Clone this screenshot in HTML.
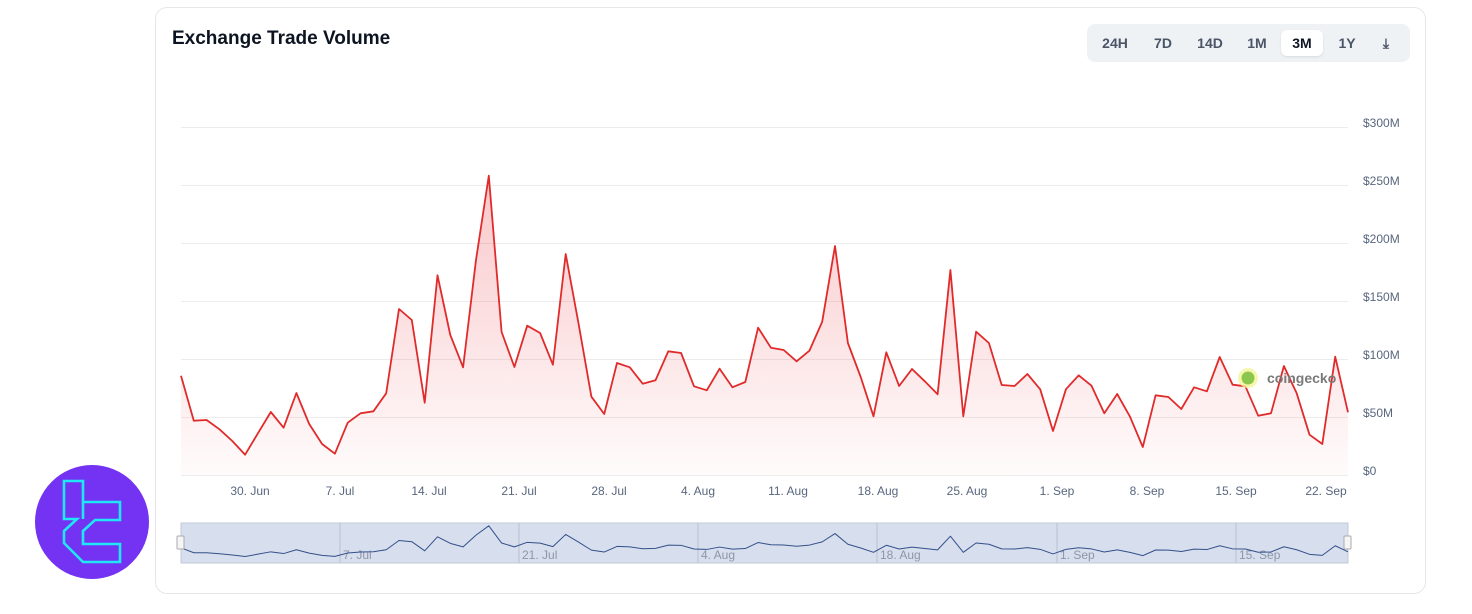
<!DOCTYPE html>
<html><head><meta charset="utf-8"><style>
html,body{margin:0;padding:0;background:#fff;width:1472px;height:614px;overflow:hidden;font-family:"Liberation Sans",sans-serif;}
.card{position:absolute;left:155px;top:7px;width:1271px;height:587px;border:1.5px solid #e5e7eb;border-radius:12px;box-sizing:border-box;}
.title{position:absolute;left:172px;top:28px;font-size:19px;font-weight:bold;color:#0d1421;}
.btns{position:absolute;left:1087px;top:24px;width:323px;height:38px;background:#eff2f5;border-radius:8px;}
.btn{position:absolute;top:6px;height:26px;line-height:26px;font-size:14px;font-weight:bold;color:#4a5568;text-align:center;}
.act{background:#fff;border-radius:6px;color:#0d1421;box-shadow:0 1px 2px rgba(0,0,0,.1);}
svg{position:absolute;left:0;top:0;}
</style></head><body>
<div class="card"></div>
<div class="title">Exchange Trade Volume</div>
<div class="btns">
<div class="btn" style="left:8px;width:40px">24H</div>
<div class="btn" style="left:56px;width:40px">7D</div>
<div class="btn" style="left:102px;width:42px">14D</div>
<div class="btn" style="left:150px;width:40px">1M</div>
<div class="btn act" style="left:194px;width:42px">3M</div>
<div class="btn" style="left:240px;width:40px">1Y</div>
<div class="btn" style="left:284px;width:30px">⤓</div>
</div>
<svg width="1472" height="614" viewBox="0 0 1472 614">
<defs>
<linearGradient id="g" x1="0" y1="0" x2="0" y2="1">
<stop offset="0" stop-color="#ea3943" stop-opacity="0.28"/>
<stop offset="1" stop-color="#ea3943" stop-opacity="0.02"/>
</linearGradient>
</defs>
<g stroke="#ececec" stroke-width="1">
<line x1="181" y1="127.5" x2="1348" y2="127.5"/>
<line x1="181" y1="185.5" x2="1348" y2="185.5"/>
<line x1="181" y1="243.5" x2="1348" y2="243.5"/>
<line x1="181" y1="301.5" x2="1348" y2="301.5"/>
<line x1="181" y1="359.5" x2="1348" y2="359.5"/>
<line x1="181" y1="417.5" x2="1348" y2="417.5"/>
<line x1="181" y1="475.5" x2="1348" y2="475.5"/>
</g>
<g fill="#58667e" font-size="12" font-family="Liberation Sans,sans-serif">
<text x="1363" y="127">$300M</text><text x="1363" y="185">$250M</text><text x="1363" y="243">$200M</text>
<text x="1363" y="301">$150M</text><text x="1363" y="359">$100M</text><text x="1363" y="417">$50M</text><text x="1363" y="475">$0</text>
</g>
<g fill="#58667e" font-size="12" font-family="Liberation Sans,sans-serif" text-anchor="middle">
<text x="250" y="495">30. Jun</text><text x="340" y="495">7. Jul</text><text x="429" y="495">14. Jul</text>
<text x="519" y="495">21. Jul</text><text x="609" y="495">28. Jul</text><text x="698" y="495">4. Aug</text>
<text x="788" y="495">11. Aug</text><text x="878" y="495">18. Aug</text><text x="967" y="495">25. Aug</text>
<text x="1057" y="495">1. Sep</text><text x="1147" y="495">8. Sep</text><text x="1236" y="495">15. Sep</text>
<text x="1326" y="495">22. Sep</text>
</g>
<polygon fill="url(#g)" points="181,475 181,375.7 193.8,420.7 206.6,420 219.5,429.3 232.3,441 245.1,454.7 257.9,433.3 270.8,412 283.6,427.7 296.4,393 309.2,424 322.1,444 334.9,453.7 347.7,422.7 360.5,413.3 373.4,411.3 386.2,393.3 399,309 411.8,320 424.7,402.7 437.5,275.3 450.3,335 463.1,367.3 476,260 488.8,175.7 501.6,332 514.4,367 527.2,325.7 540.1,333 552.9,364.7 565.7,254 578.5,323.3 591.4,396.7 604.2,414 617,363 629.8,367.3 642.7,383.7 655.5,380.3 668.3,351.3 681.1,353 694,386.3 706.8,390.3 719.6,368.7 732.4,387.3 745.3,382 758.1,327.7 770.9,347.7 783.7,350 796.6,361.3 809.4,350.7 822.2,321.7 835,246 847.9,343 860.7,377 873.5,416.3 886.3,352.3 899.1,386 912,369 924.8,381.3 937.6,394.3 950.4,270 963.3,416.3 976.1,331.7 988.9,343 1001.7,385 1014.6,386 1027.4,374 1040.2,389.3 1053,431 1065.9,389.3 1078.7,375.3 1091.5,385.7 1104.3,413.3 1117.2,394 1130,416.7 1142.8,447 1155.6,395.3 1168.4,397 1181.3,409 1194.1,387.3 1206.9,391.3 1219.7,357 1232.6,384.7 1245.4,386.3 1258.2,415.7 1271,413.3 1283.9,366 1296.7,393.3 1309.5,434.7 1322.3,444 1335.2,356.7 1348,412.3 1348,475"/>
<polyline fill="none" stroke="#e02b2b" stroke-width="1.8" stroke-linejoin="round" points="181,375.7 193.8,420.7 206.6,420 219.5,429.3 232.3,441 245.1,454.7 257.9,433.3 270.8,412 283.6,427.7 296.4,393 309.2,424 322.1,444 334.9,453.7 347.7,422.7 360.5,413.3 373.4,411.3 386.2,393.3 399,309 411.8,320 424.7,402.7 437.5,275.3 450.3,335 463.1,367.3 476,260 488.8,175.7 501.6,332 514.4,367 527.2,325.7 540.1,333 552.9,364.7 565.7,254 578.5,323.3 591.4,396.7 604.2,414 617,363 629.8,367.3 642.7,383.7 655.5,380.3 668.3,351.3 681.1,353 694,386.3 706.8,390.3 719.6,368.7 732.4,387.3 745.3,382 758.1,327.7 770.9,347.7 783.7,350 796.6,361.3 809.4,350.7 822.2,321.7 835,246 847.9,343 860.7,377 873.5,416.3 886.3,352.3 899.1,386 912,369 924.8,381.3 937.6,394.3 950.4,270 963.3,416.3 976.1,331.7 988.9,343 1001.7,385 1014.6,386 1027.4,374 1040.2,389.3 1053,431 1065.9,389.3 1078.7,375.3 1091.5,385.7 1104.3,413.3 1117.2,394 1130,416.7 1142.8,447 1155.6,395.3 1168.4,397 1181.3,409 1194.1,387.3 1206.9,391.3 1219.7,357 1232.6,384.7 1245.4,386.3 1258.2,415.7 1271,413.3 1283.9,366 1296.7,393.3 1309.5,434.7 1322.3,444 1335.2,356.7 1348,412.3"/>
<circle cx="1248" cy="378" r="10" fill="#f2f59a" opacity="0.8"/>
<circle cx="1248" cy="378" r="6.5" fill="#8dc64c"/>
<text x="1267" y="383" font-size="14" font-weight="bold" fill="#7a7a7a" font-family="Liberation Sans,sans-serif">coingecko</text>
<rect x="181" y="523" width="1167" height="40" fill="#d7deed" stroke="#c1c9d8" stroke-width="1"/>
<g stroke="#b8c0cf" stroke-width="1">
<line x1="340" y1="523" x2="340" y2="563"/><line x1="519" y1="523" x2="519" y2="563"/><line x1="698" y1="523" x2="698" y2="563"/>
<line x1="877" y1="523" x2="877" y2="563"/><line x1="1057" y1="523" x2="1057" y2="563"/><line x1="1236" y1="523" x2="1236" y2="563"/>
</g>
<g fill="#8e97a8" font-size="12" font-family="Liberation Sans,sans-serif">
<text x="343" y="559">7. Jul</text><text x="522" y="559">21. Jul</text><text x="701" y="559">4. Aug</text>
<text x="880" y="559">18. Aug</text><text x="1060" y="559">1. Sep</text><text x="1239" y="559">15. Sep</text>
</g>
<g transform="translate(0,506.5) scale(1,0.11)">
<polyline fill="none" stroke="#33508a" stroke-width="1" vector-effect="non-scaling-stroke" stroke-linejoin="round" points="181,375.7 193.8,420.7 206.6,420 219.5,429.3 232.3,441 245.1,454.7 257.9,433.3 270.8,412 283.6,427.7 296.4,393 309.2,424 322.1,444 334.9,453.7 347.7,422.7 360.5,413.3 373.4,411.3 386.2,393.3 399,309 411.8,320 424.7,402.7 437.5,275.3 450.3,335 463.1,367.3 476,260 488.8,175.7 501.6,332 514.4,367 527.2,325.7 540.1,333 552.9,364.7 565.7,254 578.5,323.3 591.4,396.7 604.2,414 617,363 629.8,367.3 642.7,383.7 655.5,380.3 668.3,351.3 681.1,353 694,386.3 706.8,390.3 719.6,368.7 732.4,387.3 745.3,382 758.1,327.7 770.9,347.7 783.7,350 796.6,361.3 809.4,350.7 822.2,321.7 835,246 847.9,343 860.7,377 873.5,416.3 886.3,352.3 899.1,386 912,369 924.8,381.3 937.6,394.3 950.4,270 963.3,416.3 976.1,331.7 988.9,343 1001.7,385 1014.6,386 1027.4,374 1040.2,389.3 1053,431 1065.9,389.3 1078.7,375.3 1091.5,385.7 1104.3,413.3 1117.2,394 1130,416.7 1142.8,447 1155.6,395.3 1168.4,397 1181.3,409 1194.1,387.3 1206.9,391.3 1219.7,357 1232.6,384.7 1245.4,386.3 1258.2,415.7 1271,413.3 1283.9,366 1296.7,393.3 1309.5,434.7 1322.3,444 1335.2,356.7 1348,412.3"/>
</g>
<rect x="177" y="536" width="7" height="13" rx="1" fill="#f5f5f5" stroke="#aaa" stroke-width="1"/>
<rect x="1344" y="536" width="7" height="13" rx="1" fill="#f5f5f5" stroke="#aaa" stroke-width="1"/>
<circle cx="92" cy="522" r="57" fill="#7433f2"/>
<g fill="none" stroke="#1ee8f5" stroke-width="2.6" stroke-linejoin="miter">
<path d="M64,481 H83 V502 H120 V520 H95 L83,531 V544 H120 V562 H83 L64,543 V531 L77,519 H64 Z"/>
<path d="M83,502 V519"/>
</g>
</svg>
</body></html>
